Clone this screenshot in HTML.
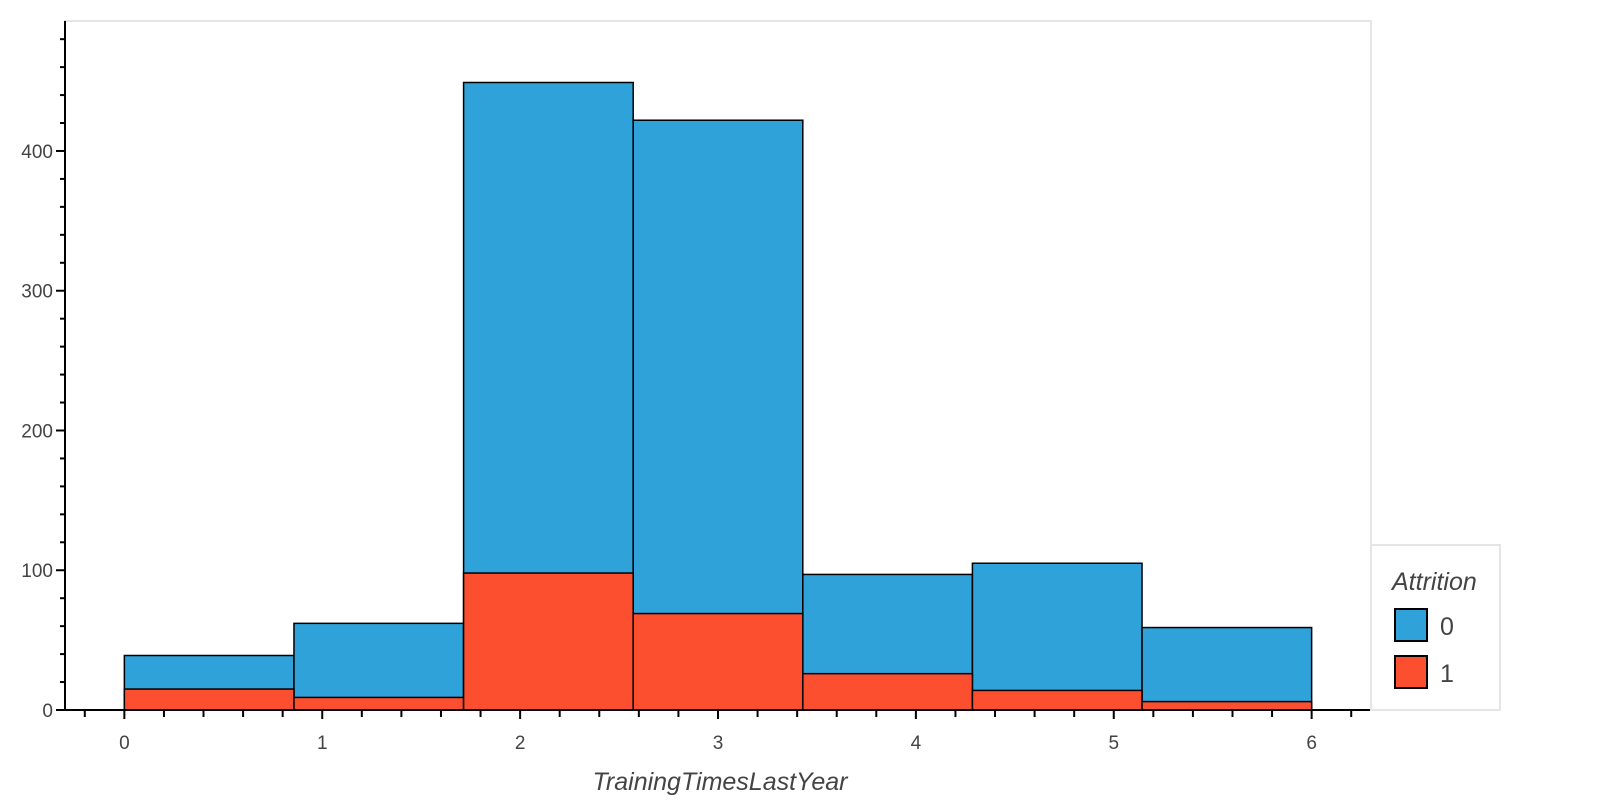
<!DOCTYPE html>
<html><head><meta charset="utf-8"><style>
html,body{margin:0;padding:0;background:#fff;}
svg{display:block;font-family:"Liberation Sans",sans-serif;}
</style></head><body>
<svg id="chart" width="1600" height="800"></svg>
<script>
const binLabels=[0,1,2,3,4,5,6];
const countsAttr0=[39,62,449,422,97,105,59];
const countsAttr1=[15,9,98,69,26,14,6];
const yTicks=[0,100,200,300,400];
const xTicks=[0,1,2,3,4,5,6];
const seriesNames=["0","1"];
const seriesColors=["#30a2da","#fc4f30"];

const NS="http://www.w3.org/2000/svg";
const svg=document.getElementById('chart');
const L=65,R=1371,T=21,B=710;
const xMin=-0.3,xMax=6.3,yMin=0,yMax=493;
const xs=v=>L+(v-xMin)/(xMax-xMin)*(R-L);
const ys=v=>B-(v-yMin)/(yMax-yMin)*(B-T);
function mk(tag,attrs){const e=document.createElementNS(NS,tag);for(const k in attrs)e.setAttribute(k,attrs[k]);svg.appendChild(e);return e;}

let fr=mk('rect',{x:L,y:T,width:R-L,height:B-T,fill:'#fff',stroke:'#e5e5e5','stroke-width':2});



const nb=binLabels.length;
const bw=(binLabels[nb-1]-binLabels[0])/nb;
function drawSeries(vals,color,name){
  vals.forEach((v,i)=>{
    const x0=binLabels[0]+i*bw,x1=x0+bw;
    const r=mk('rect',{x:xs(x0),y:ys(v),width:xs(x1)-xs(x0),height:ys(0)-ys(v),fill:color,stroke:'#000','stroke-width':1.5});
    
    
  });
}
drawSeries(countsAttr0,seriesColors[0],'attrition-0');
drawSeries(countsAttr1,seriesColors[1],'attrition-1');

let ya=mk('line',{x1:L,y1:T,x2:L,y2:B,stroke:'#000','stroke-width':2});


let xa=mk('line',{x1:L,y1:B,x2:R,y2:B,stroke:'#000','stroke-width':2});



for(let v=0;v<=yMax;v+=20){
  const major=v%100===0;
  mk('line',{x1:L-(major?9:5),y1:ys(v),x2:L,y2:ys(v),stroke:'#000','stroke-width':2});
}
yTicks.forEach(v=>{
  const t=mk('text',{x:L-12,y:ys(v)+7,'text-anchor':'end','font-size':19,fill:'#444'});
  t.textContent=v;
  
  
});
for(let k=-1;k<=31;k++){
  const v=k*0.2; if(v<xMin||v>xMax)continue;
  const major=Math.abs(v-Math.round(v))<1e-6;
  mk('line',{x1:xs(v),y1:B,x2:xs(v),y2:B+(major?9:7),stroke:'#000','stroke-width':2});
}
xTicks.forEach(v=>{
  const t=mk('text',{x:xs(v),y:B+39,'text-anchor':'middle','font-size':19,fill:'#444'});
  t.textContent=v;
  
  
});
let xt=mk('text',{x:720,y:790,'text-anchor':'middle','font-size':25,'font-style':'italic',fill:'#444'});
xt.textContent='TrainingTimesLastYear';



let lg=mk('rect',{x:R,y:545,width:129,height:165,fill:'#fff',stroke:'#e5e5e5','stroke-width':2});


let lt=mk('text',{x:1392,y:590,'font-size':25,'font-style':'italic',fill:'#444'});
lt.textContent='Attrition';


seriesNames.forEach((n,i)=>{
  const y0=609+i*47;
  const s=mk('rect',{x:1395,y:y0,width:32,height:32,fill:seriesColors[i],stroke:'#000','stroke-width':2});
  
  
  const t=mk('text',{x:1440,y:y0+26,'font-size':25,fill:'#444'});
  t.textContent=n;
  
  
});
</script>
</body></html>
